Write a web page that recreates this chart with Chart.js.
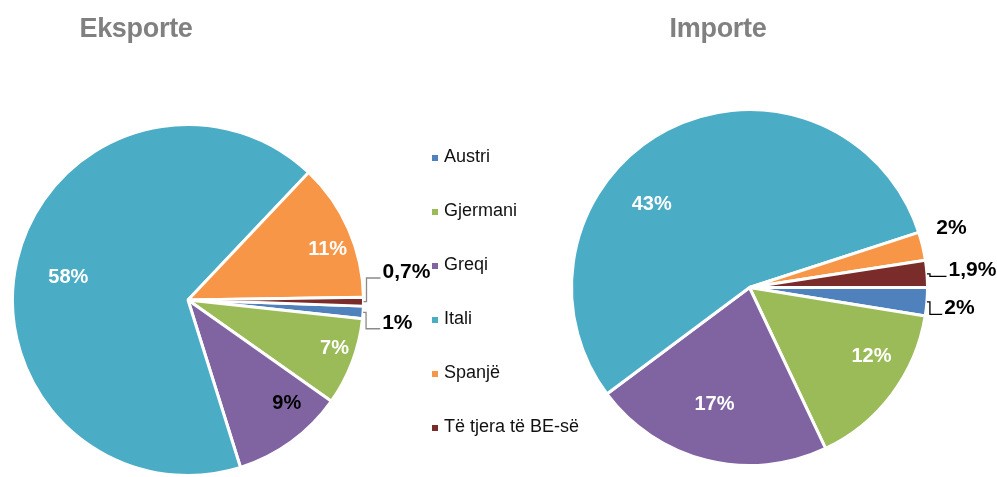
<!DOCTYPE html>
<html>
<head>
<meta charset="utf-8">
<script src="https://cdn.jsdelivr.net/npm/chart.js@4"></script>
<style>
  body { margin: 0; background: #fff; font-family: "Liberation Sans", Arial, sans-serif; }
  #wrap { position: relative; width: 997px; height: 477px; overflow: hidden; }
  #wrap canvas { position: absolute; left: 0; top: 0; }
  .title { position: absolute; top: 13px; font-weight: bold; font-size: 27px; color: #808080; letter-spacing: -0.3px; transform: translateX(-50%); }
  #legend { position: absolute; left: 432px; top: 146px; }
  .item { height: 54px; font-size: 18px; color: #111; display: flex; align-items: flex-start; }
  .item span.sw { width: 6px; height: 6px; margin-right: 6px; margin-top: 9px; }
</style>
</head>
<body>
<div id="wrap">
  <canvas id="eksChart" width="997" height="477"></canvas>
  <canvas id="impChart" width="997" height="477"></canvas>
  <div class="title" style="left:136px">Eksporte</div>
  <div class="title" style="left:718px">Importe</div>
  <div id="legend"></div>
</div>
<script>
// Data
const categories = ["Austri", "Gjermani", "Greqi", "Itali", "Spanjë", "Të tjera të BE-së"];
const eksporteValues = [1, 7, 9, 58, 11, 0.7];
const importeValues = [2, 12, 17, 43, 2, 1.9];
const colors = ["#4F81BD", "#9BBB59", "#8064A2", "#4BACC6", "#F79646", "#7A2C2B"];

// label placement: [radius fraction, angle deg (0 = 3 o'clock, clockwise), colour, leader]
const eksLabels = [
  [1.2, 6.2, "#000", true],
  [0.88, 18.4, "#fff", false],
  [0.816, 46.4, "#000", false],
  [0.694, 190.8, "#fff", false],
  [0.847, 340, "#fff", false],
  [1.255, -7.3, "#000", true],
];
const impLabels = [
  [1.185, 5.7, "#000", true],
  [0.787, 29.5, "#fff", false],
  [0.686, 106.7, "#fff", false],
  [0.72, 220.3, "#fff", false],
  [1.182, -16.3, "#000", false],
  [1.256, -4.4, "#000", true],
];

function fmt(v) {
  return String(v).replace(".", ",") + "%";
}

// draws the percentage labels and leader lines
const pieLabels = {
  id: "pieLabels",
  afterDatasetsDraw(chart, args, opts) {
    const ctx = chart.ctx;
    const arcs = chart.getDatasetMeta(0).data;
    const values = chart.data.datasets[0].data;
    ctx.save();
    ctx.textAlign = "center";
    ctx.textBaseline = "middle";
    arcs.forEach((arc, i) => {
      const p = opts.places[i];
      const R = arc.outerRadius;
      const a = p[1] * Math.PI / 180;
      const lx = arc.x + Math.cos(a) * R * p[0];
      const ly = arc.y + Math.sin(a) * R * p[0];
      const text = fmt(values[i]);
      ctx.font = (p[0] > 1 ? "bold 21px" : "bold 20px") + " 'Liberation Sans', Arial, sans-serif";
      if (p[3]) {
        const mid = (arc.startAngle + arc.endAngle) / 2;
        const ex = arc.x + Math.cos(mid) * R;
        const ey = arc.y + Math.sin(mid) * R;
        const left = lx - ctx.measureText(text).width / 2 - 2;
        ctx.strokeStyle = opts.lineColor;
        ctx.lineWidth = 1.3;
        ctx.beginPath();
        ctx.moveTo(ex, ey);
        ctx.lineTo(ex + 3, ey);
        ctx.lineTo(ex + 3, ly + 6);
        ctx.lineTo(left, ly + 6);
        ctx.stroke();
      }
      ctx.fillStyle = p[2];
      ctx.fillText(text, lx, ly);
    });
    ctx.restore();
  },
};

function makePie(id, values, places, rotation, padding, lineColor) {
  return new Chart(document.getElementById(id), {
    type: "pie",
    data: {
      labels: categories,
      datasets: [
        {
          data: values,
          backgroundColor: colors,
          borderColor: "#fff",
          borderWidth: 3,
        },
      ],
    },
    options: {
      responsive: false,
      animation: false,
      rotation: rotation,
      layout: { padding: padding },
      plugins: {
        legend: { display: false },
        tooltip: { enabled: false },
        pieLabels: { places: places, lineColor: lineColor },
      },
    },
    plugins: [pieLabels],
  });
}

makePie("eksChart", eksporteValues, eksLabels, 92, { left: 10, top: 123, right: 631, bottom: -2 }, "#8a8a8a");
makePie("impChart", importeValues, impLabels, 90, { left: 570, top: 108, right: 68, bottom: 10 }, "#000");

// HTML legend
const legend = document.getElementById("legend");
categories.forEach((c, i) => {
  const row = document.createElement("div");
  row.className = "item";
  row.innerHTML = '<span class="sw" style="background:' + colors[i] + '"></span><span>' + c + "</span>";
  legend.appendChild(row);
});
</script>
</body>
</html>
